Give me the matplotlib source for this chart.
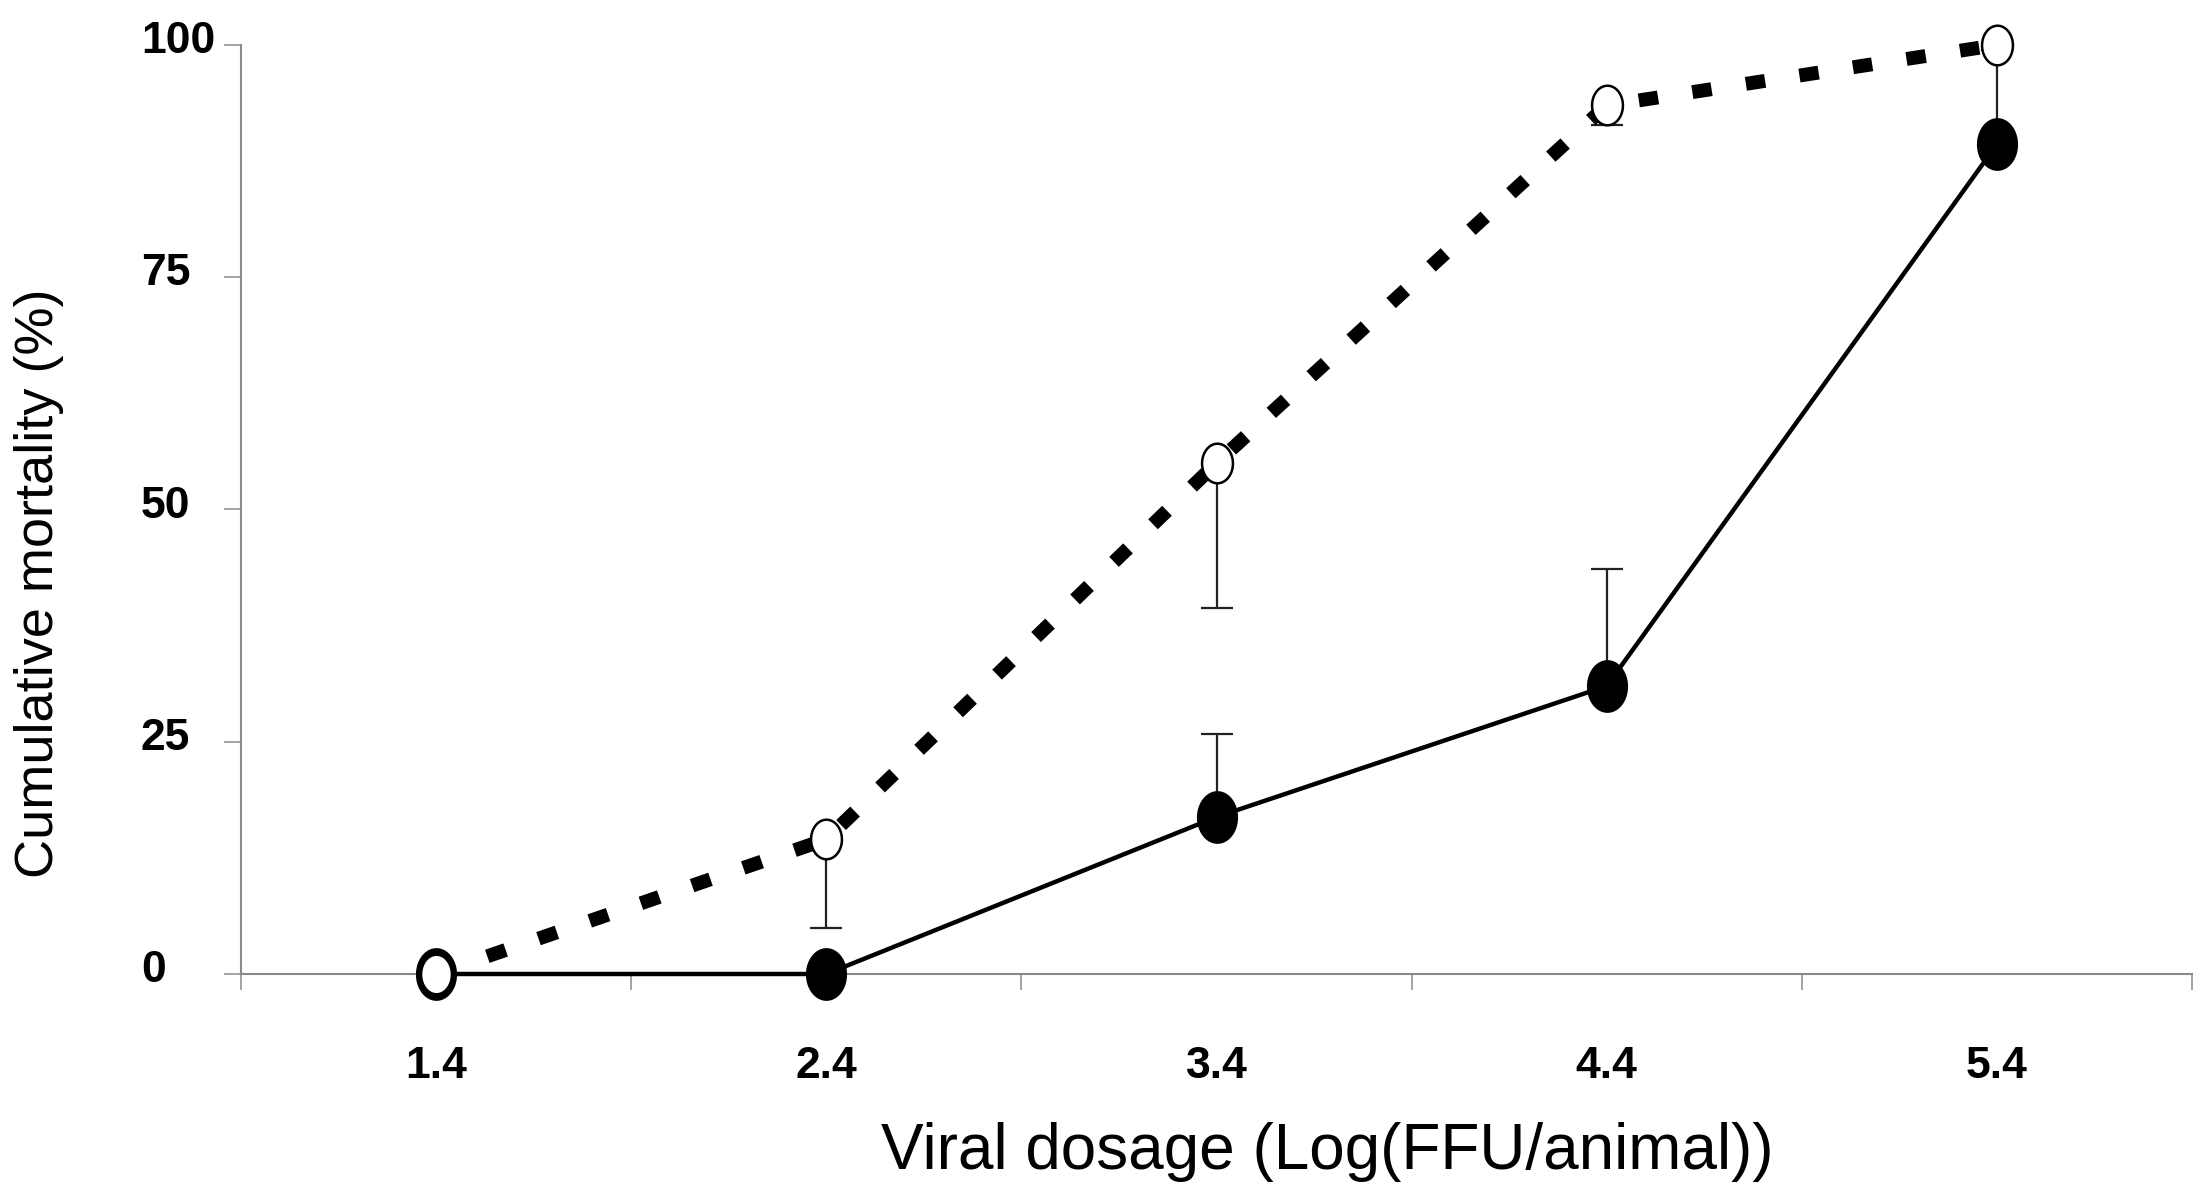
import numpy as np
import matplotlib
matplotlib.use('Agg')
import matplotlib.pyplot as plt
import matplotlib.transforms as mtransforms
from matplotlib.path import Path
from matplotlib.ticker import FixedLocator

plt.rcParams['font.family'] = ['Liberation Sans', 'DejaVu Sans']

# Viral dose groups (log FFU / animal)
dose = [1.4, 2.4, 3.4, 4.4, 5.4]
dose_labels = ['1.4', '2.4', '3.4', '4.4', '5.4']
dose_edges = [0.9, 1.9, 2.9, 3.9, 4.9, 5.9]

# open circles, dashed line (error bars drawn downward)
mort_open = [0, 14.5, 55.0, 93.5, 100.0]
err_open = [0, 9.5, 15.6, 2.1, 0]

# filled circles, solid line (error bars drawn upward)
mort_filled = [0, 0, 16.9, 31.0, 89.3]
err_filled = [0, 0, 8.9, 12.6, 10.2]

y_ticks = [0, 25, 50, 75, 100]

GRAY = '#8a8a8a'

# slightly tall oval marker like the original
t = np.linspace(0, 2 * np.pi, 73)
oval = Path(np.column_stack([0.78 * np.cos(t), np.sin(t)]), closed=True)

fig = plt.figure(figsize=(21.96, 11.91), dpi=100)
ax = fig.add_axes([241 / 2196, 1 - 974 / 1191, 1951 / 2196, 929 / 1191])

# error bars (one-sided)
idx = [i for i, e in enumerate(err_filled) if e > 0]
eb = ax.errorbar([dose[i] for i in idx], [mort_filled[i] for i in idx],
                 yerr=[[0] * len(idx), [err_filled[i] for i in idx]],
                 fmt='none', ecolor='#222222', elinewidth=1.6,
                 capsize=11.2, capthick=1.6, zorder=2, clip_on=False)
eb[1][0].set_visible(False)  # lower caps

idx = [i for i, e in enumerate(err_open) if e > 0]
eb = ax.errorbar([dose[i] for i in idx], [mort_open[i] for i in idx],
                 yerr=[[err_open[i] for i in idx], [0] * len(idx)],
                 fmt='none', ecolor='#222222', elinewidth=1.6,
                 capsize=11.2, capthick=1.6, zorder=2, clip_on=False)
eb[1][1].set_visible(False)  # upper caps

# lines
ax.plot(dose, mort_filled, color='black', lw=3.2, zorder=3, clip_on=False)
ax.plot(dose, mort_open, color='black', lw=10, linestyle=(0, (1.4, 2.5)),
        dash_capstyle='butt', zorder=3, clip_on=False)

# markers
ax.plot(dose, mort_filled, linestyle='none', marker=oval, ms=38,
        mfc='black', mec='black', mew=0, zorder=4, clip_on=False)
ax.plot(dose, mort_open, linestyle='none', marker=oval, ms=28.5,
        mfc='white', mec='black', mew=1.8, zorder=5, clip_on=False)

# axes styling
ax.set_xlim(dose_edges[0], dose_edges[-1])
ax.set_ylim(0, 100)
for s in ['top', 'right']:
    ax.spines[s].set_visible(False)
for s in ['left', 'bottom']:
    ax.spines[s].set_color(GRAY)
    ax.spines[s].set_linewidth(1.5)

ax.set_xticks(dose)
ax.set_xticklabels(dose_labels, fontsize=32, fontweight='bold')
ax.xaxis.set_minor_locator(FixedLocator(dose_edges))
ax.tick_params(axis='x', which='major', length=0, pad=52)
ax.tick_params(axis='x', which='minor', length=11.5, width=1.1,
               color=GRAY, direction='out')

ax.set_yticks(y_ticks)
ax.tick_params(axis='y', length=12, width=1.1, color=GRAY, pad=60)
ax.set_yticklabels([str(v) for v in y_ticks], fontsize=32,
                   fontweight='bold', ha='left')
offset = mtransforms.ScaledTranslation(0, 8 / 100, fig.dpi_scale_trans)
for lab in ax.get_yticklabels():
    lab.set_transform(lab.get_transform() + offset)

ax.set_xlabel('Viral dosage (Log(FFU/animal))', fontsize=46, va='center')
ax.xaxis.set_label_coords(0.5566, -0.1916)
ax.set_ylabel('Cumulative mortality (%)', fontsize=39, va='center')
ax.yaxis.set_label_coords(-0.1035, 0.421)

fig.savefig('out.png', dpi=100, facecolor='white')
